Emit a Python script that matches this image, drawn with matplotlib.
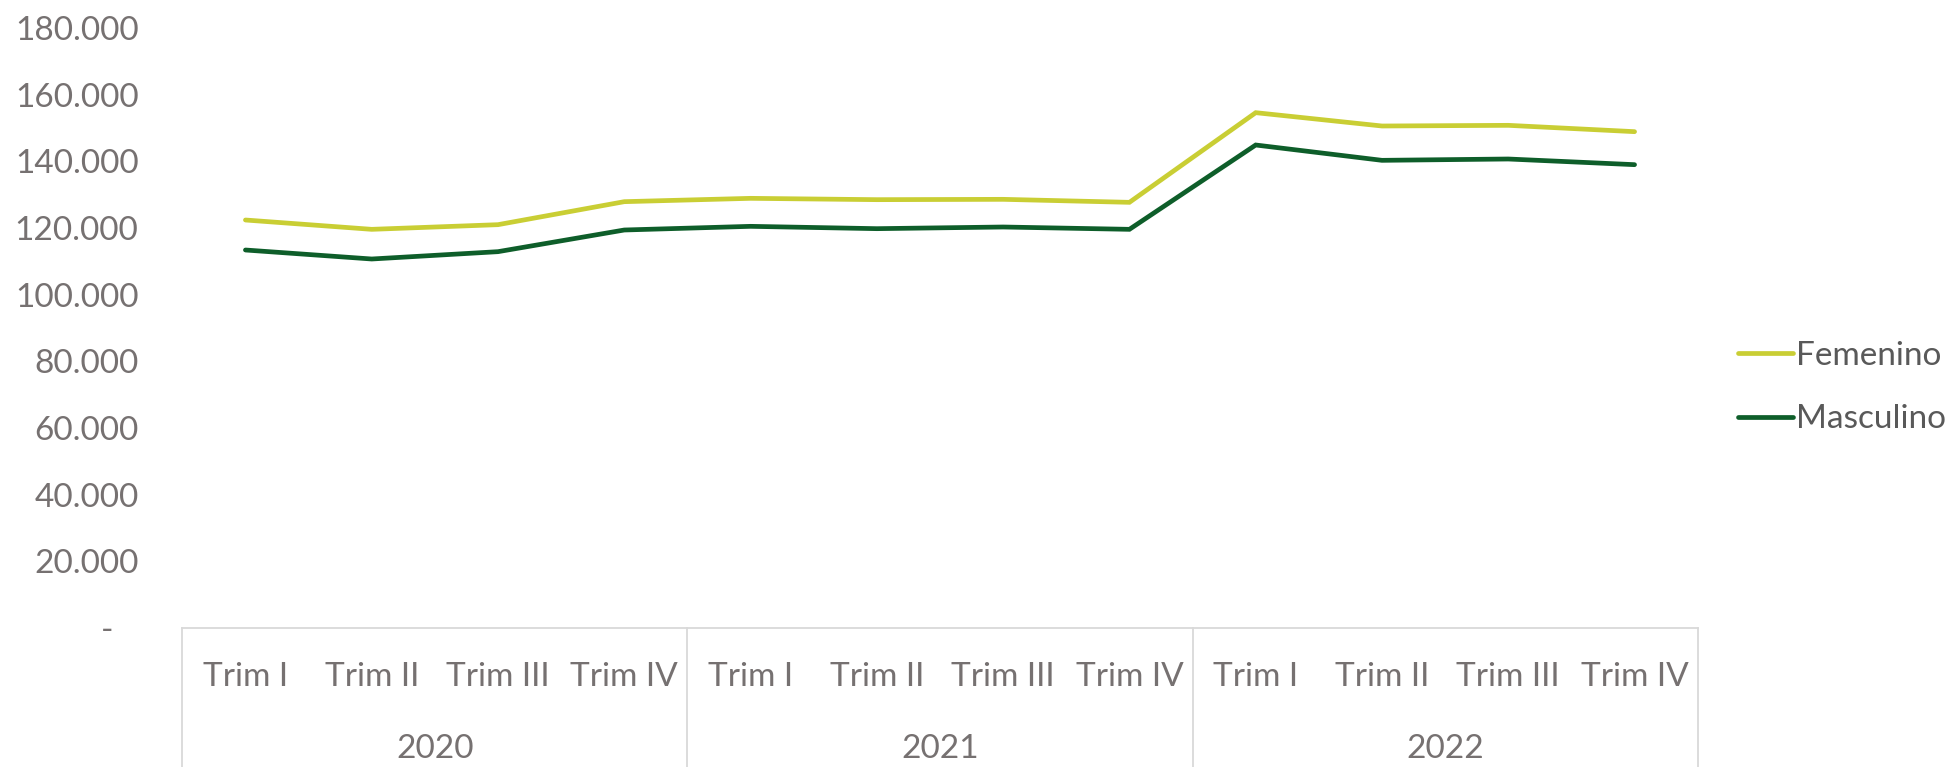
import matplotlib
matplotlib.use("Agg")
import matplotlib.pyplot as plt
from matplotlib.ticker import FuncFormatter

# ---- data ----
years = ["2020", "2021", "2022"]
quarters = ["Trim I", "Trim II", "Trim III", "Trim IV"]
femenino = [122400, 119600, 121000, 127900,
            128900, 128500, 128600, 127700,
            154600, 150600, 150800, 148900]
masculino = [113400, 110700, 112900, 119400,
             120500, 119800, 120300, 119600,
             144900, 140300, 140700, 139000]
yticks = [0, 20000, 40000, 60000, 80000, 100000, 120000, 140000, 160000, 180000]

# ---- style ----
plt.rcParams['font.family'] = ['Lato', 'DejaVu Sans']
TXT = '#767171'
FS = 24
C_FEM = '#C9CE34'
C_MAS = '#0E5E2A'
GRID = '#D9D9D9'

W, H = 1957, 767
fig = plt.figure(figsize=(W / 100, H / 100), dpi=100)
left_px, right_px = 182.3, 1697.7
bottom_px, top_px = 628.0, 28.0
ax = fig.add_axes([left_px / W, 1 - bottom_px / H,
                   (right_px - left_px) / W, (bottom_px - top_px) / H])

n = len(years) * len(quarters)
x = list(range(n))
ax.plot(x, femenino, color=C_FEM, lw=3.4, solid_capstyle='round',
        solid_joinstyle='miter', label='Femenino')
ax.plot(x, masculino, color=C_MAS, lw=3.4, solid_capstyle='round',
        solid_joinstyle='miter', label='Masculino')

ax.set_xlim(-0.5, n - 0.5)
ax.set_ylim(0, 180000)

for s in ['left', 'right', 'top']:
    ax.spines[s].set_visible(False)
ax.spines['bottom'].set_color(GRID)
ax.spines['bottom'].set_linewidth(1.3)

ax.set_yticks(yticks)
ax.yaxis.set_major_formatter(FuncFormatter(
    lambda v, p: "-   " if v == 0 else f"{int(v):,}".replace(",", ".")))
ax.tick_params(axis='y', length=0, pad=31.5, labelsize=FS, labelcolor=TXT)
ax.set_xticks([])

# category labels (two-level axis)
trans = ax.get_xaxis_transform()
px_to_axes = 1.0 / (bottom_px - top_px)
y_q = -(676.7 - bottom_px) * px_to_axes
y_y = -(749.0 - bottom_px) * px_to_axes
for i in range(n):
    ax.text(i, y_q, quarters[i % 4], transform=trans, ha='center', va='center',
            fontsize=FS, color=TXT, clip_on=False)
for j, yr in enumerate(years):
    ax.text(j * 4 + 1.5, y_y, yr, transform=trans, ha='center', va='center',
            fontsize=FS, color=TXT, clip_on=False)
for b in range(len(years) + 1):
    xb = b * 4 - 0.5
    ax.plot([xb, xb], [0, -0.5], transform=trans, color=GRID, lw=1.3,
            clip_on=False)

leg = ax.legend(loc='center left', bbox_to_anchor=(1738 / W, 1 - 387.5 / H),
                bbox_transform=fig.transFigure, frameon=False, fontsize=FS,
                handlelength=1.65, handletextpad=0.1, labelspacing=1.0,
                borderpad=0, borderaxespad=0)
for t in leg.get_texts():
    t.set_color('#595959')

fig.savefig("out.png", dpi=100)
